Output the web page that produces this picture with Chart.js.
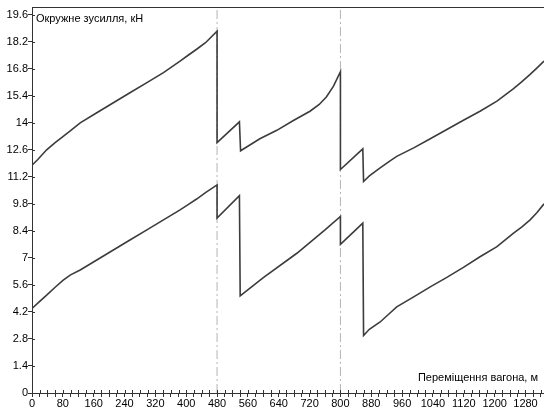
<!DOCTYPE html>
<html>
<head>
<meta charset="utf-8">
<script src="https://cdn.jsdelivr.net/npm/chart.js@4"></script>
<style>
    html, body { margin: 0; padding: 0; background: #fff; }
    #wrap { width: 544px; height: 409px; position: relative; }
</style>
</head>
<body>
<div id="wrap"><canvas id="forceChart"></canvas></div>
<script>
// переміщення вагона, м (точки верхньої кривої)
const upperX = [0, 15, 38, 60, 81, 100, 125, 168, 211, 254, 298, 341, 384, 405, 427, 450, 480,
                480, 538, 541, 591, 635, 678, 721, 745, 764, 782, 800,
                800, 858, 860, 875, 903, 925, 946, 990, 1033, 1076, 1119, 1162, 1206, 1249, 1270, 1292, 1310, 1328];
const upperY = [11.8, 12.1, 12.6, 12.97, 13.3, 13.6, 14.0, 14.52, 15.04, 15.56, 16.08, 16.6, 17.2, 17.5, 17.81, 18.15, 18.75,
                12.97, 14.05, 12.55, 13.17, 13.61, 14.12, 14.6, 14.95, 15.35, 15.9, 16.65,
                11.58, 12.65, 10.96, 11.25, 11.66, 11.98, 12.26, 12.7, 13.17, 13.65, 14.13, 14.6, 15.12, 15.77, 16.12, 16.51, 16.85, 17.2];

// нижня крива
const lowerX = [0, 20, 38, 60, 81, 100, 125, 168, 211, 254, 298, 341, 384, 405, 427, 450, 480,
                480, 538, 540, 600, 687, 760, 800,
                800, 858, 860, 875, 903, 925, 946, 990, 1033, 1076, 1119, 1162, 1206, 1249, 1270, 1292, 1310, 1328];
const lowerY = [4.38, 4.75, 5.07, 5.48, 5.85, 6.12, 6.37, 6.89, 7.41, 7.93, 8.45, 8.97, 9.49, 9.76, 10.05, 10.38, 10.78,
                9.07, 10.23, 5.03, 5.98, 7.24, 8.45, 9.15,
                7.7, 8.8, 2.98, 3.3, 3.68, 4.08, 4.46, 4.98, 5.5, 5.99, 6.51, 7.06, 7.58, 8.28, 8.6, 8.97, 9.35, 9.8];

// штрихпунктирні лінії
const markerX = [480, 800];

const yTicks = [0, 1.4, 2.8, 4.2, 5.6, 7, 8.4, 9.8, 11.2, 12.6, 14, 15.4, 16.8, 18.2, 19.6];
const xLabelStep = 80;
const xMinorStep = 20;
const xMax = 1328;
const yMax = 20;

const yTitle = 'Окружне зусилля, кН';
const xTitle = 'Переміщення вагона, м';

const lineColor = '#3c3c3c';
const textFont = { family: '"Liberation Sans", Arial, sans-serif', size: 11 };

function toPoints(xs, ys) {
    return xs.map((x, i) => ({ x: x, y: ys[i] }));
}

const markerSets = markerX.map(m => ({
    data: [{ x: m, y: 0 }, { x: m, y: yMax }],
    borderColor: '#b4b4b4',
    borderWidth: 1,
    borderDash: [9, 3, 2, 3],
    pointRadius: 0,
    order: 2
}));

// хрестики на осях + верхня рамка + підписи осей
const axisDecor = {
    id: 'axisDecor',
    afterDraw(chart) {
        const ctx = chart.ctx, a = chart.chartArea;
        const xs = chart.scales.x, ys = chart.scales.y;
        ctx.save();
        ctx.strokeStyle = '#333';
        ctx.lineWidth = 1;
        ctx.beginPath();
        ctx.moveTo(a.left, a.top + 0.5);
        ctx.lineTo(chart.width, a.top + 0.5);
        xs.ticks.forEach(t => {
            const px = Math.round(xs.getPixelForValue(t.value)) + 0.5;
            ctx.moveTo(px, a.bottom);
            ctx.lineTo(px, a.bottom - 3);
        });
        ys.ticks.forEach(t => {
            const py = Math.round(ys.getPixelForValue(t.value)) + 0.5;
            ctx.moveTo(a.left, py);
            ctx.lineTo(a.left + 3, py);
        });
        ctx.stroke();

        ctx.fillStyle = '#000';
        ctx.font = textFont.size + 'px ' + textFont.family;
        ctx.textBaseline = 'middle';
        ctx.textAlign = 'left';
        ctx.fillText(yTitle, a.left + 4, a.top + 12);
        ctx.textAlign = 'right';
        ctx.fillText(xTitle, chart.width - 6, a.bottom - 15);
        ctx.restore();
    }
};

new Chart(document.getElementById('forceChart'), {
    type: 'line',
    data: {
        datasets: [
            { data: toPoints(upperX, upperY), borderColor: lineColor, borderWidth: 1.6, pointRadius: 0, tension: 0, order: 1 },
            { data: toPoints(lowerX, lowerY), borderColor: lineColor, borderWidth: 1.6, pointRadius: 0, tension: 0, order: 1 }
        ].concat(markerSets)
    },
    options: {
        responsive: true,
        maintainAspectRatio: false,
        animation: false,
        layout: { padding: { top: 7, right: 0, left: 0, bottom: 0 } },
        plugins: { legend: { display: false }, tooltip: { enabled: false } },
        scales: {
            x: {
                type: 'linear',
                min: 0,
                max: xMax,
                afterBuildTicks: s => {
                    const t = [];
                    for (let v = 0; v <= xMax; v += xMinorStep) t.push({ value: v });
                    s.ticks = t;
                },
                afterFit: s => { s.height = 16; },
                ticks: {
                    autoSkip: false,
                    maxRotation: 0,
                    padding: 0,
                    color: '#000',
                    font: textFont,
                    callback: v => (v % xLabelStep === 0 ? String(v) : '')
                },
                grid: { drawOnChartArea: false, tickLength: 4, color: '#333' },
                border: { color: '#333', width: 1 }
            },
            y: {
                min: 0,
                max: yMax,
                afterBuildTicks: s => { s.ticks = yTicks.map(v => ({ value: v })); },
                afterFit: s => { s.width = 32; },
                ticks: {
                    padding: 0,
                    color: '#000',
                    font: textFont,
                    callback: v => String(Math.round(v * 10) / 10)
                },
                grid: { drawOnChartArea: false, tickLength: 4, color: '#333' },
                border: { color: '#333', width: 1 }
            }
        }
    },
    plugins: [axisDecor]
});
</script>
</body>
</html>
